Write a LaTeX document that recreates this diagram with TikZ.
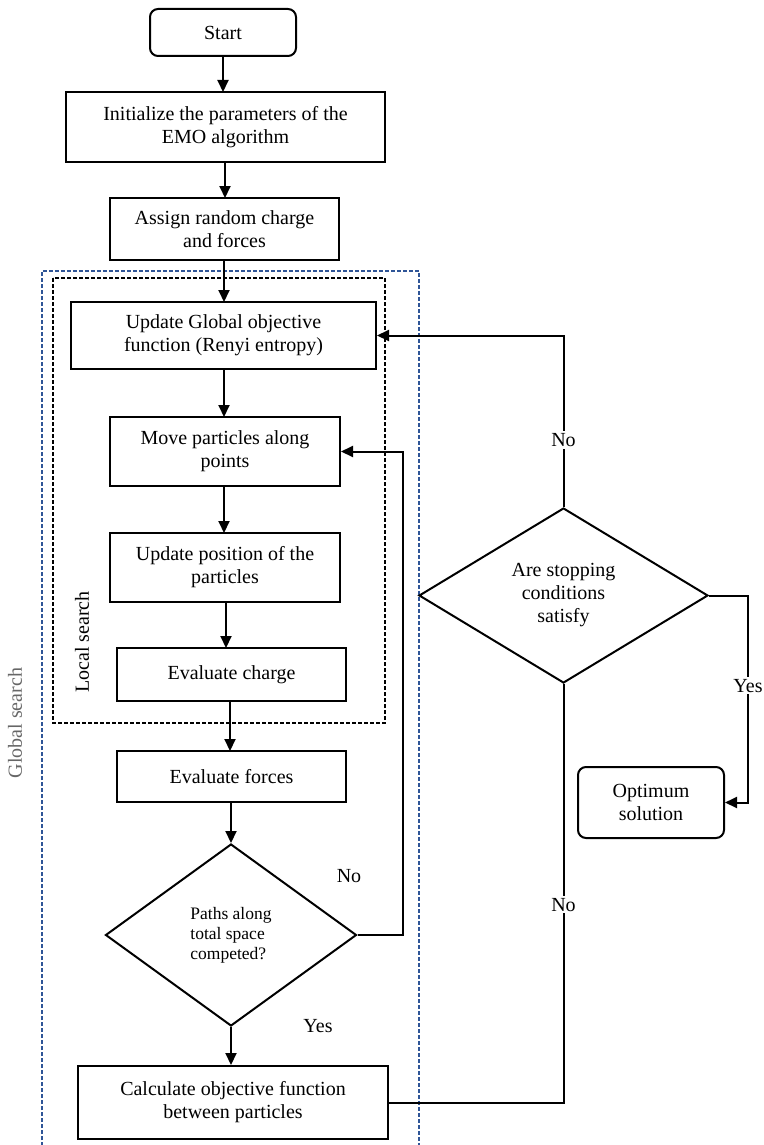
\documentclass[tikz,border=0pt]{standalone}
\usepackage{fontspec}
\setmainfont{Liberation Serif}
\usetikzlibrary{shapes.geometric, positioning, arrows.meta}
\definecolor{gsblue}{RGB}{47,85,151}

\begin{document}
\begin{tikzpicture}[x=1pt, y=-1pt,
stepbox/.style={rectangle, draw, line width=2pt, inner sep=0pt, align=center, font=\fontsize{20}{23}\selectfont},
termbox/.style={stepbox, rounded corners=8pt},
decision/.style={diamond, draw, line width=2pt, inner sep=0pt, align=center, font=\fontsize{20}{23}\selectfont},
arrow/.style={line width=2pt, -{Triangle[length=12pt,width=11pt]}},
link/.style={line width=2pt},
answer/.style={font=\fontsize{20}{22}\selectfont, fill=white, inner sep=2pt}
]
\useasboundingbox (0,0) rectangle (763,1145);

% search regions
\draw[gsblue, line width=1.3pt, dash pattern=on 4pt off 2pt] (42,1146) -- (42,271) -- (419,271) -- (419,1146);
\draw[line width=1.5pt, dash pattern=on 4pt off 2pt] (53,278) rectangle (385,723);
\node[rotate=90, text=black!60, font=\fontsize{20}{22}\selectfont] (gslabel) at (15,723) {Global search};
\node[rotate=90, font=\fontsize{20}{22}\selectfont] (lslabel) at (82,642) {Local search};

% main chain
\node[termbox, minimum width=146pt, minimum height=47pt] (start) at (223,32.5) {Start};
\node[stepbox, minimum width=319pt, minimum height=70pt] (init) at (225.5,127) {Initialize the parameters of the\\EMO algorithm};
\node[stepbox, minimum width=229pt, minimum height=62pt] (assign) at (224.5,229) {Assign random charge\\and forces};
\node[stepbox, minimum width=305pt, minimum height=67pt] (update) at (223.5,335.5) {Update Global objective\\function (Renyi entropy)};
\node[stepbox, minimum width=230pt, minimum height=69pt] (move) at (225,451.5) {Move particles along\\points};
\node[stepbox, minimum width=230pt, minimum height=69pt] (position) at (225,567.5) {Update position of the\\particles};
\node[stepbox, minimum width=229pt, minimum height=53pt] (charge) at (231.5,674.5) {Evaluate charge};
\node[stepbox, minimum width=229pt, minimum height=51pt] (forces) at (231.5,776.5) {Evaluate forces};
\node[decision, minimum width=251pt, minimum height=182pt, align=left, font=\fontsize{17.5}{20}\selectfont] (paths) at (231,935) {Paths along\\total space\\competed?};
\node[stepbox, minimum width=310pt, minimum height=73pt] (calc) at (233,1102.5) {Calculate objective function\\between particles};

% stopping test
\node[decision, minimum width=289pt, minimum height=175pt] (stop) at (563.5,595.5) {Are stopping\\conditions\\satisfy};
\node[termbox, minimum width=146pt, minimum height=71pt] (optimum) at (651,802.5) {Optimum\\solution};

\draw[arrow] (start.south -| 223,0) -- (223,92);
\draw[arrow] (init.south -| 225,0) -- (225,198);
\draw[arrow] (assign.south -| 224,0) -- (224,302);
\draw[arrow] (update.south -| 224,0) -- (224,417);
\draw[arrow] (move.south -| 224,0) -- (224,533);
\draw[arrow] (position.south -| 226,0) -- (226,648);
\draw[arrow] (charge.south -| 230,0) -- (230,751);
\draw[arrow] (forces.south -| paths.north) -- (paths.north);
\draw[arrow] (paths.south) -- (calc.north -| paths.south);

% loops
\draw[arrow] (paths.east) -- (403,935) |- (move.east);
\node[font=\fontsize{20}{22}\selectfont] (pathsno) at (349,876) {No};
\node[font=\fontsize{20}{22}\selectfont] (pathsyes) at (318,1026) {Yes};

\coordinate (calcturn) at (stop.south |- calc.east);
\draw[link] (calc.east) -- (calcturn) -- node[answer, pos=0.473] {No} (stop.south);

\coordinate (stopturn) at (stop.north |- update.east);
\draw[arrow] (stop.north) -- node[answer, pos=0.39] {No} (stopturn) -- (update.east);

\coordinate (yesturn) at (748,595.5);
\draw[arrow] (stop.east) -- (yesturn) -- node[answer, pos=0.436] {Yes} (yesturn |- optimum.east) -- (optimum.east);
\end{tikzpicture}
\end{document}
